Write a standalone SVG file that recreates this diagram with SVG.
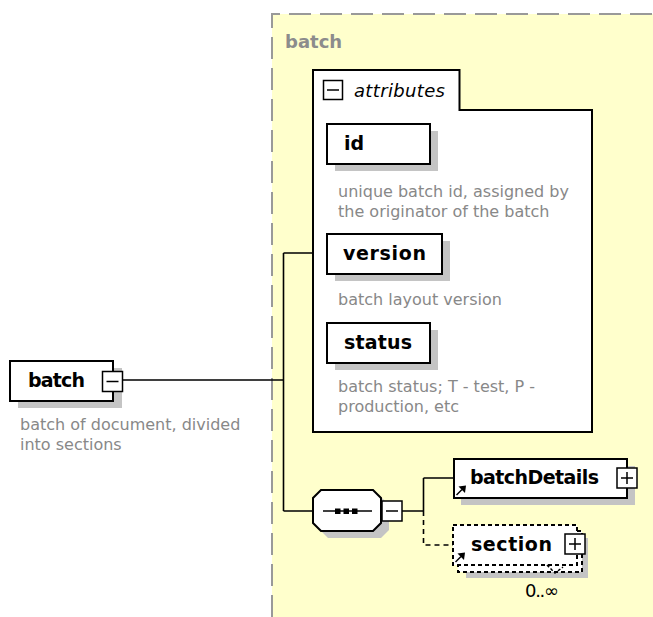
<svg xmlns="http://www.w3.org/2000/svg" width="653" height="617" viewBox="0 0 653 617">
<defs>
<style>
.box{fill:#fff;stroke:#000;stroke-width:2}
.dbox{fill:#fff;stroke:#000;stroke-width:2;stroke-dasharray:4 3}
.shadow{fill:#c4c4c4}
.name{font-family:"DejaVu Sans",Verdana,sans-serif;font-weight:bold;font-size:19px;fill:#000}
.desc{font-family:"DejaVu Sans",Verdana,sans-serif;font-size:16px;fill:#888}
.btn{fill:#fff;stroke:#000;stroke-width:1.5}
.sym{stroke:#000;stroke-width:1.5;fill:none}
.conn{stroke:#000;stroke-width:1.6;fill:none}
.dconn{stroke:#000;stroke-width:1.6;fill:none;stroke-dasharray:5 4}
</style>
</defs>

<g id="complexType-batch">
<rect x="272" y="14" width="381" height="603" fill="#ffffcc"/>
<path d="M272,617 V14 H653" fill="none" stroke="#999" stroke-width="2" stroke-dasharray="22 9"/>
<text x="285" y="48" class="name" style="fill:#8c8c8c;font-size:18px">batch</text>
</g>

<g id="connectors">
<path class="conn" d="M123,380 H283.5 M283.5,253 V511 M283.5,253 H313 M283.5,511 H313"/>
<path class="conn" d="M402,511 H423.5 M423.5,478 V511 M423.5,478 H454"/>
<path class="dconn" d="M423.5,511 V545 H453"/>
</g>

<g id="batch-root">
<rect class="shadow" x="18" y="368" width="104" height="40"/>
<rect class="box" x="10" y="361" width="103" height="40"/>
<text x="28" y="387" class="name" textLength="57">batch</text>
<rect class="btn" x="102.5" y="371.5" width="20" height="20"/>
<path class="sym" d="M106.5,381.5 H118.5"/>
<text class="desc" x="20" y="430">batch of document, divided</text>
<text class="desc" x="20" y="450">into sections</text>
</g>

<g id="attributes">
<path d="M313,70 H459.5 V110 H592 V432 H313 Z" fill="#fff" stroke="#000" stroke-width="2"/>
<rect class="btn" x="323.5" y="80.5" width="19" height="19"/>
<path class="sym" d="M327,90 H339"/>
<text x="354" y="97" style="font-family:'DejaVu Sans',Verdana,sans-serif;font-style:italic;font-size:18px;fill:#000" textLength="91">attributes</text>
</g>

<g id="attr-id">
<rect class="shadow" x="335" y="131" width="103" height="40"/>
<rect class="box" x="327" y="124" width="103" height="40"/>
<text x="344" y="150" class="name">id</text>
<text class="desc" x="338" y="197">unique batch id, assigned by</text>
<text class="desc" x="338" y="217">the originator of the batch</text>
</g>

<g id="attr-version">
<rect class="shadow" x="335" y="241" width="115" height="40"/>
<rect class="box" x="327" y="234" width="115" height="40"/>
<text x="343" y="260" class="name" textLength="83">version</text>
<text class="desc" x="338" y="305">batch layout version</text>
</g>

<g id="attr-status">
<rect class="shadow" x="335" y="330" width="103" height="40"/>
<rect class="box" x="327" y="323" width="103" height="40"/>
<text x="344" y="349" class="name" textLength="68">status</text>
<text class="desc" x="338" y="392">batch status; T - test, P -</text>
<text class="desc" x="338" y="412">production, etc</text>
</g>

<g id="sequence">
<path class="shadow" d="M328,497 H381 L389,505 V530 L381,538 H328 L320,530 V505 Z"/>
<path d="M321,490 H373 L381,498 V523 L373,531 H321 L313,523 V498 Z" fill="#fff" stroke="#000" stroke-width="2"/>
<path class="sym" d="M323,511 H372"/>
<rect x="335" y="508.5" width="5.5" height="5.5" fill="#000"/>
<rect x="343.5" y="508.5" width="5.5" height="5.5" fill="#000"/>
<rect x="352" y="508.5" width="5.5" height="5.5" fill="#000"/>
<rect class="btn" x="382" y="501" width="20" height="20"/>
<path class="sym" d="M386,511 H398"/>
</g>

<g id="batchDetails">
<rect class="shadow" x="461" y="466" width="174" height="39"/>
<rect class="box" x="454" y="459" width="173" height="39"/>
<path class="sym" d="M456.5,495 L462,489.5" stroke-width="2.5"/>
<path d="M458.5,486.5 L466,485.5 L465,493 Z" fill="#000"/>
<text x="470" y="484" class="name" textLength="129">batchDetails</text>
<rect class="btn" x="617" y="468" width="20" height="20"/>
<path class="sym" d="M621,478 H633 M627,472 V484"/>
</g>

<g id="section">
<rect class="shadow" x="466" y="538" width="122" height="40"/>
<rect class="dbox" x="458" y="531" width="124" height="41"/>
<rect class="dbox" x="453" y="525" width="124" height="40"/>
<path class="sym" d="M455.5,562 L461,556.5" stroke-width="2.5"/>
<path d="M457.5,553.5 L465,552.5 L464,560 Z" fill="#000"/>
<text x="471" y="551" class="name" textLength="81">section</text>
<rect class="btn" x="565" y="534" width="20" height="20"/>
<path class="sym" d="M569,544 H581 M575,538 V550"/>
<path class="sym" d="M547,565 L555,573 L563,567" stroke-dasharray="3 2"/>
<text x="525" y="597" style="font-family:'DejaVu Sans',Verdana,sans-serif;font-size:18px;fill:#000" textLength="34">0..∞</text>
</g>
</svg>
